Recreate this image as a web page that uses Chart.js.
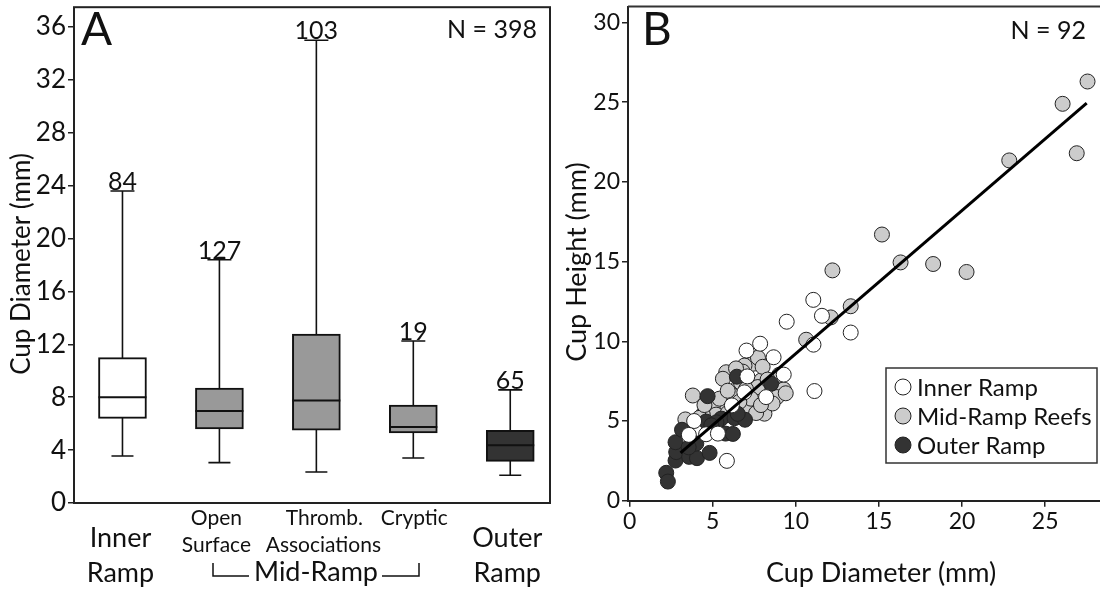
<!DOCTYPE html>
<html>
<head>
<meta charset="utf-8">
<script src="https://cdn.jsdelivr.net/npm/chart.js@4.4.1/dist/chart.umd.min.js"></script>
<style>
  body { margin: 0; background: #fff; }
  #wrap { position: relative; width: 1100px; height: 595px; overflow: hidden; }
  #boxA { position: absolute; left: 0; top: 0; }
  #scatB { position: absolute; left: 560px; top: 0; }
</style>
</head>
<body>
<div id="wrap">
  <canvas id="boxA" width="560" height="595"></canvas>
  <canvas id="scatB" width="540" height="595"></canvas>
</div>
<script>
// ---- panel A : cup diameter by setting (box plots) ----
const groups = ['Inner Ramp', 'Open Surface', 'Thromb. Associations', 'Cryptic', 'Outer Ramp'];
const groupN = [84, 127, 103, 19, 65];
const whiskerLow = [3.55, 3.05, 2.35, 3.4, 2.1];
const q1 = [6.4, 5.6, 5.5, 5.3, 3.15];
const median = [8.0, 6.95, 7.75, 5.75, 4.37];
const q3 = [11.0, 8.7, 12.78, 7.4, 5.5];
const whiskerHigh = [23.6, 18.4, 35.0, 12.25, 8.56];
const yTicksA = [0, 4, 8, 12, 16, 20, 24, 28, 32, 36];

// ---- panel B : cup height vs cup diameter ----
const innerX = [11.05, 11.57, 9.45, 13.3, 11.06, 7.85, 7.03, 8.66, 9.27, 7.08, 11.12, 8.21, 6.15, 6.9, 3.88, 3.56, 4.6, 5.31, 5.85];
const innerY = [12.6, 11.6, 11.23, 10.55, 9.79, 9.85, 9.42, 9.0, 7.91, 7.8, 6.88, 6.5, 5.98, 6.8, 5.0, 4.13, 4.17, 4.21, 2.5];
const midX = [27.55, 26.05, 26.9, 22.84, 15.18, 16.3, 18.26, 20.27, 12.2, 12.1, 13.3, 10.62,
  7.41, 6.91, 5.81, 5.61, 9.27, 7.91, 7.71, 8.86, 8.11, 7.11, 6.51, 3.8, 4.81, 5.51, 3.35, 5.01,
  7.61, 9.39, 7.72, 6.7, 5.2, 4.4, 5.9, 7.3, 8.6, 6.2, 7.0, 4.2, 6.8, 8.0, 5.4, 7.9, 6.6, 9.0, 4.5, 8.3, 5.9, 6.4];
const midY = [26.3, 24.9, 21.8, 21.35, 16.7, 14.95, 14.85, 14.35, 14.45, 11.5, 12.2, 10.1,
  8.59, 8.48, 8.06, 7.65, 6.98, 7.54, 7.13, 6.5, 5.46, 5.88, 7.09, 6.6, 5.77, 5.98, 5.1, 5.98,
  5.5, 6.74, 8.97, 7.4, 5.4, 5.4, 5.5, 6.4, 6.1, 6.6, 7.0, 5.2, 8.1, 8.4, 6.4, 6.0, 6.2, 7.9, 6.0, 7.6, 6.9, 8.3];
const outerX = [2.2, 2.3, 2.76, 2.8, 2.76, 3.58, 4.05, 4.81, 3.15, 4.6, 4.01, 5.77, 6.21, 5.51, 6.31, 6.94,
  6.45, 4.69, 8.51, 5.22, 3.55, 4.91, 6.5];
const outerY = [1.75, 1.2, 2.52, 3.05, 3.67, 2.75, 2.67, 3.0, 4.45, 4.97, 3.59, 4.21, 4.19, 5.15, 5.18, 5.08,
  7.78, 6.56, 7.34, 4.92, 3.35, 4.73, 5.45];
const fitX = [3.06, 27.5];
const fitY = [3.0, 24.95];
const xTicksB = [0, 5, 10, 15, 20, 25];
const yTicksB = [0, 5, 10, 15, 20, 25, 30];

const FONT = 'Lato, "Open Sans", sans-serif';
const INK = '#111';

function pts(xs, ys) {
    return xs.map((v, i) => ({ x: v, y: ys[i] }));
}

function text(ctx, str, x, y, size, align) {
    ctx.font = size + 'px ' + FONT;
    ctx.fillStyle = INK;
    ctx.textAlign = align || 'center';
    ctx.textBaseline = 'middle';
    ctx.fillText(str, x, y);
}

// whiskers, medians, counts, frame and category labels for panel A
const boxExtras = {
    id: 'boxExtras',
    beforeDatasetsDraw(chart) {
        const { ctx, scales: { x, y } } = chart;
        ctx.save();
        ctx.strokeStyle = INK;
        ctx.lineWidth = 1.6;
        groups.forEach((g, i) => {
            const cx = x.getPixelForValue(i + 1);
            const lo = y.getPixelForValue(whiskerLow[i]);
            const hi = y.getPixelForValue(whiskerHigh[i]);
            ctx.beginPath();
            ctx.moveTo(cx, lo); ctx.lineTo(cx, hi);
            ctx.moveTo(cx - 11, lo); ctx.lineTo(cx + 11, lo);
            ctx.moveTo(cx - 12, hi); ctx.lineTo(cx + 12, hi);
            ctx.stroke();
        });
        ctx.restore();
    },
    afterDatasetsDraw(chart) {
        const { ctx, scales: { x, y } } = chart;
        ctx.save();
        ctx.strokeStyle = INK;
        ctx.lineWidth = 2;
        groups.forEach((g, i) => {
            const cx = x.getPixelForValue(i + 1);
            const m = y.getPixelForValue(median[i]);
            ctx.beginPath();
            ctx.moveTo(cx - 24, m); ctx.lineTo(cx + 24, m);
            ctx.stroke();
            // sample size above the upper whisker
            ctx.font = '25px ' + FONT;
            ctx.fillStyle = INK;
            ctx.textAlign = 'center';
            ctx.textBaseline = 'alphabetic';
            ctx.fillText(String(groupN[i]), cx, y.getPixelForValue(whiskerHigh[i]) - 1);
        });
        ctx.restore();
    },
    afterDraw(chart) {
        const { ctx, chartArea: a, scales: { x } } = chart;
        ctx.save();
        ctx.strokeStyle = '#222';
        ctx.lineWidth = 2;
        ctx.strokeRect(a.left, a.top, a.right - a.left, a.bottom - a.top);

        text(ctx, 'A', 81, 30, 46, 'left');
        text(ctx, 'N = 398', 537, 30, 25, 'right');

        // y title
        ctx.save();
        ctx.translate(22, 264);
        ctx.rotate(-Math.PI / 2);
        text(ctx, 'Cup Diameter (mm)', 0, 0, 26);
        ctx.restore();

        // category labels
        const px = i => x.getPixelForValue(i + 1);
        text(ctx, 'Inner', px(0) - 2, 538, 27);
        text(ctx, 'Ramp', px(0) - 2, 573, 27);
        text(ctx, 'Open', px(1) - 3, 518, 21);
        text(ctx, 'Surface', px(1) - 3, 545, 21);
        text(ctx, 'Thromb.', px(2) + 8, 518, 21);
        text(ctx, 'Associations', px(2) + 7, 545, 21);
        text(ctx, 'Cryptic', px(3) + 1, 518, 21);
        text(ctx, 'Outer', px(4) - 3, 538, 27);
        text(ctx, 'Ramp', px(4) - 3, 573, 27);
        text(ctx, 'Mid-Ramp', 316, 572, 27);

        // bracket under the mid-ramp groups
        ctx.strokeStyle = INK;
        ctx.lineWidth = 1.5;
        ctx.beginPath();
        ctx.moveTo(213, 563); ctx.lineTo(213, 576); ctx.lineTo(249, 576);
        ctx.moveTo(382, 576); ctx.lineTo(419, 576); ctx.lineTo(419, 563);
        ctx.stroke();
        ctx.restore();
    }
};

// frame top, legend, labels and titles for panel B
const scatterExtras = {
    id: 'scatterExtras',
    afterDraw(chart) {
        const { ctx, chartArea: a } = chart;
        ctx.save();
        ctx.strokeStyle = '#333';
        ctx.lineWidth = 2;
        ctx.beginPath();
        ctx.moveTo(a.left, a.top); ctx.lineTo(a.right, a.top);
        ctx.stroke();

        text(ctx, 'B', 82, 30, 46, 'left');
        text(ctx, 'N = 92', 526, 31, 25, 'right');

        ctx.save();
        ctx.translate(17, 262);
        ctx.rotate(-Math.PI / 2);
        text(ctx, 'Cup Height (mm)', 0, 0, 27);
        ctx.restore();
        text(ctx, 'Cup Diameter (mm)', 321, 573, 27);

        // legend box
        ctx.fillStyle = '#fff';
        ctx.fillRect(326, 368, 211, 95);
        ctx.strokeStyle = '#333';
        ctx.lineWidth = 1.5;
        ctx.strokeRect(326, 368, 211, 95);
        const entries = [
            ['Inner Ramp', '#ffffff'],
            ['Mid-Ramp Reefs', '#cccccc'],
            ['Outer Ramp', '#333333']
        ];
        entries.forEach((e, i) => {
            const yy = 387 + i * 29;
            ctx.beginPath();
            ctx.arc(343, yy, 8, 0, Math.PI * 2);
            ctx.fillStyle = e[1];
            ctx.fill();
            ctx.strokeStyle = '#222';
            ctx.lineWidth = 1;
            ctx.stroke();
            text(ctx, e[0], 357, yy + 1, 24, 'left');
        });
        ctx.restore();
    }
};

function drawCharts() {
    new Chart(document.getElementById('boxA'), {
        type: 'bar',
        data: {
            datasets: [{
                data: groups.map((g, i) => ({ x: i + 1, y: [q1[i], q3[i]] })),
                backgroundColor: ['#ffffff', '#999999', '#999999', '#999999', '#333333'],
                borderColor: INK,
                borderWidth: 2,
                borderSkipped: false,
                barThickness: 48
            }]
        },
        options: {
            responsive: false,
            animation: false,
            layout: { autoPadding: false, padding: { left: 0, top: 7, right: 10, bottom: 92 } },
            scales: {
                x: { type: 'linear', min: 0.5, max: 5.41, offset: false, display: false },
                y: {
                    min: 0, max: 37.5,
                    afterFit: s => { s.width = 74; },
                    afterBuildTicks: s => { s.ticks = yTicksA.map(v => ({ value: v })); },
                    grid: { drawOnChartArea: false, tickLength: 6, color: '#222', lineWidth: 1.5 },
                    border: { display: false },
                    ticks: { padding: 2, color: INK, font: { family: FONT, size: 26, lineHeight: 0.4 } }
                }
            },
            plugins: { legend: { display: false }, tooltip: { enabled: false } }
        },
        plugins: [boxExtras]
    });

    const dot = { borderColor: '#222', borderWidth: 1, pointRadius: 7.5 };
    new Chart(document.getElementById('scatB'), {
        type: 'scatter',
        data: {
            datasets: [
                { data: pts(fitX, fitY), showLine: true, borderColor: '#000', borderWidth: 3, pointRadius: 0 },
                { label: 'Inner Ramp', data: pts(innerX, innerY), backgroundColor: '#ffffff', ...dot },
                { label: 'Outer Ramp', data: pts(outerX, outerY), backgroundColor: '#333333', ...dot },
                { label: 'Mid-Ramp Reefs', data: pts(midX, midY), backgroundColor: '#cccccc', ...dot }
            ]
        },
        options: {
            responsive: false,
            animation: false,
            layout: { autoPadding: false, padding: { left: 0, top: 5, right: 0, bottom: 0 } },
            scales: {
                x: {
                    type: 'linear', min: -0.1, max: 28.3,
                    afterFit: s => { s.height = 94.3; },
                    afterBuildTicks: s => { s.ticks = xTicksB.map(v => ({ value: v })); },
                    grid: { drawOnChartArea: false, tickLength: 6, color: '#222', lineWidth: 1.5 },
                    border: { color: '#222', width: 2 },
                    ticks: { padding: 3, color: INK, font: { family: FONT, size: 23, lineHeight: 1 } }
                },
                y: {
                    min: 0, max: 31,
                    afterFit: s => { s.width = 68; },
                    afterBuildTicks: s => { s.ticks = yTicksB.map(v => ({ value: v })); },
                    grid: { drawOnChartArea: false, tickLength: 6, color: '#222', lineWidth: 1.5 },
                    border: { color: '#222', width: 2 },
                    ticks: { padding: 2, color: INK, font: { family: FONT, size: 23, lineHeight: 0.4 } }
                }
            },
            plugins: { legend: { display: false }, tooltip: { enabled: false } }
        },
        plugins: [scatterExtras]
    });
}

document.fonts.load('24px Lato').then(drawCharts, drawCharts);
</script>
</body>
</html>
